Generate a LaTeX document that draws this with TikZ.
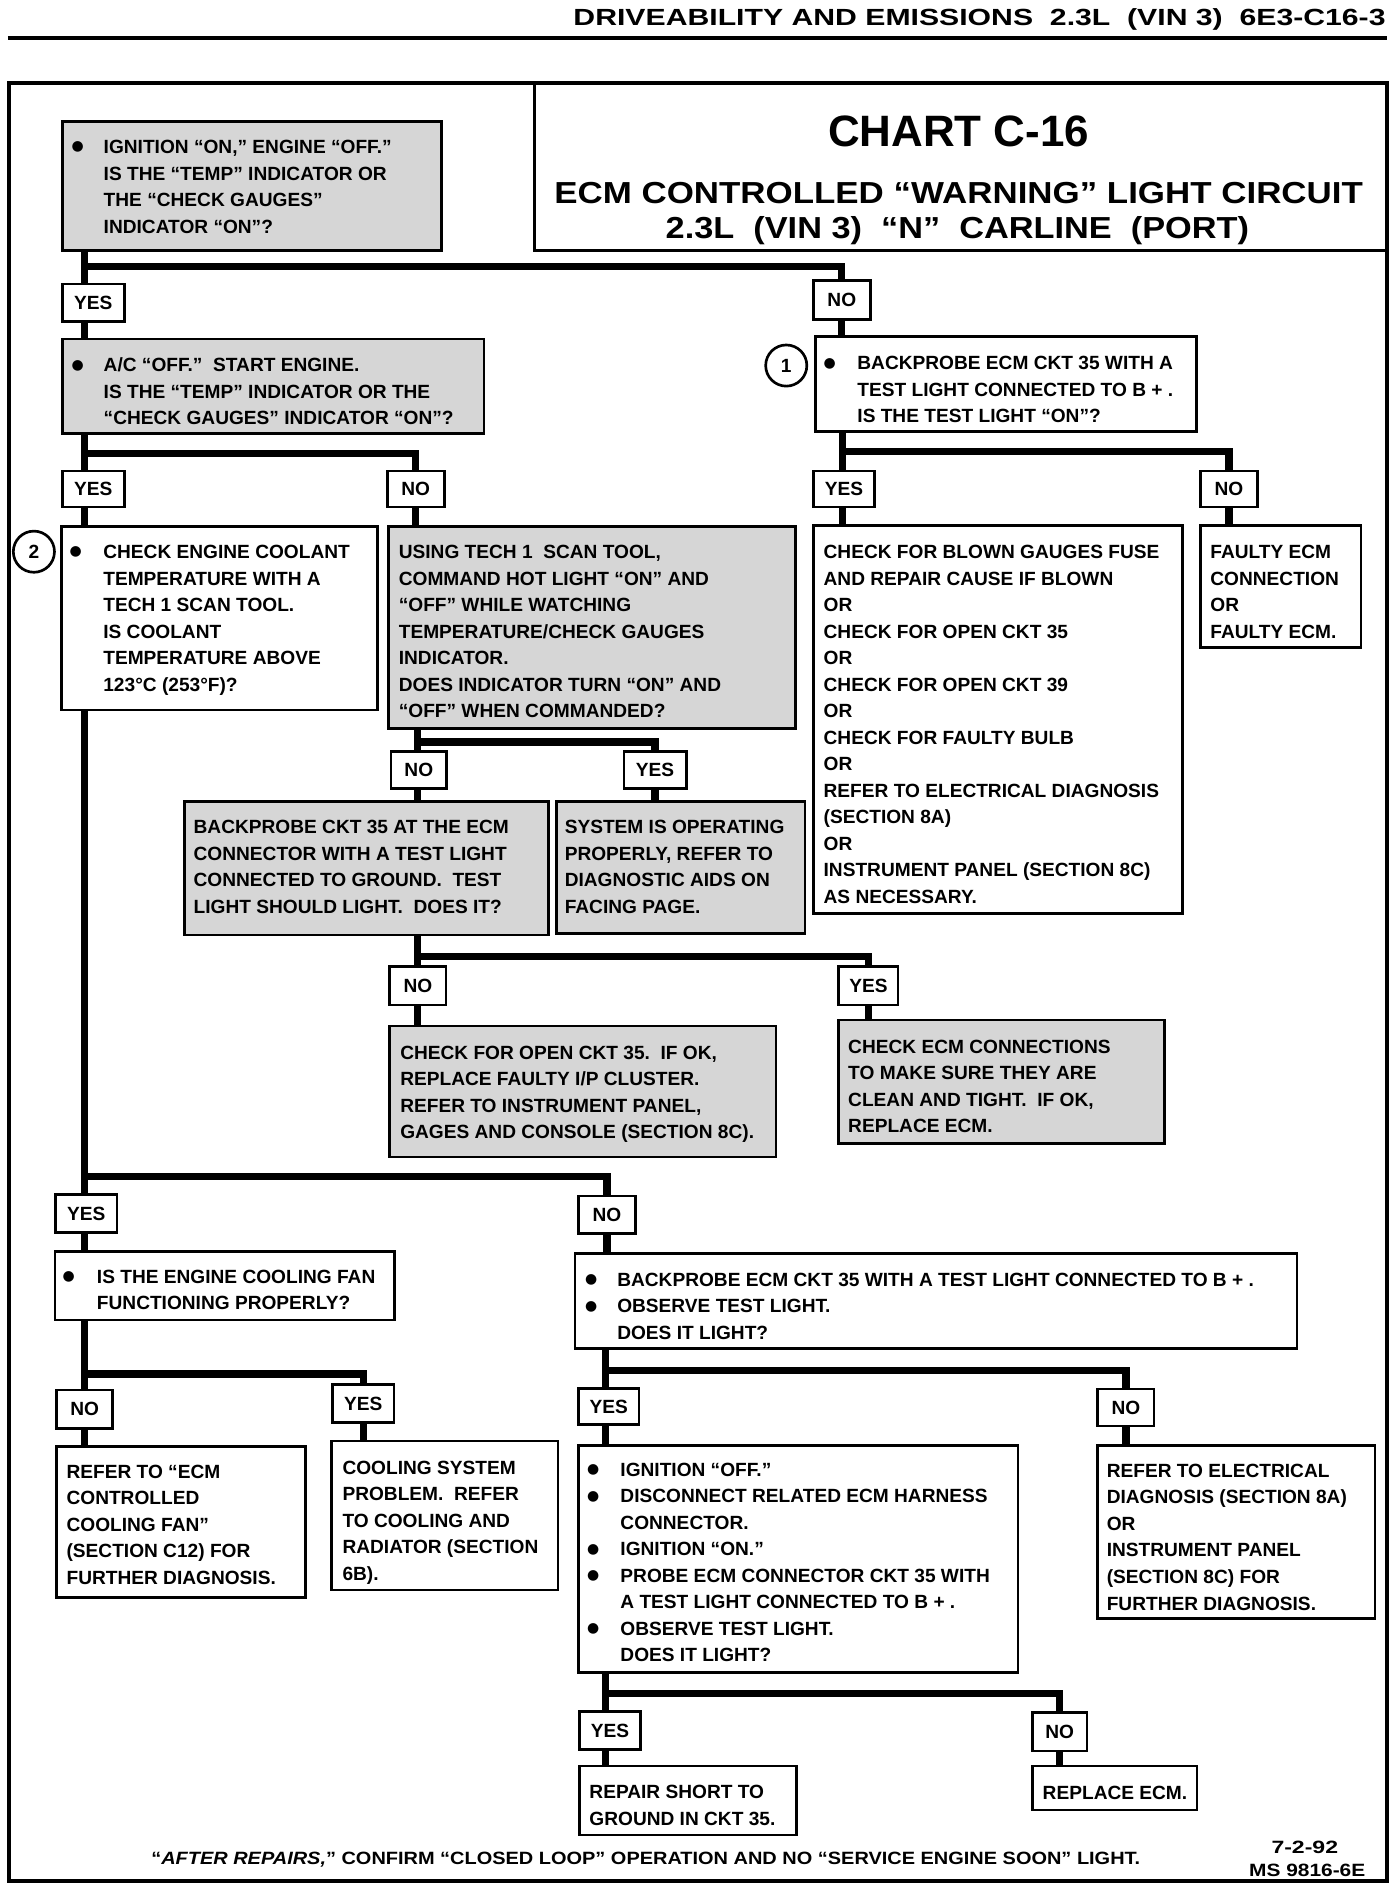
\documentclass[tikz,border=0pt]{standalone}
\usepackage{fontspec}
\setmainfont{Liberation Sans}
\newfontfamily\bulf{DejaVu Sans}
\usepackage{graphicx}
\newlength\bulw
\newcommand\bulit{\makebox[\bulw][l]{\hspace*{-1pt}\raisebox{2.2pt}{\bulf\fontsize{11.5}{11.5}\selectfont ●}}}
\newcommand\bind{\hspace*{\bulw}}
\def\caph{5.66}
\newcommand\TBox[9]{%
  \pgfmathsetmacro\tbCW{#5-#3-2*#7}%
  \pgfmathsetmacro\tbTH{#8+\caph-#4}%
  \pgfmathsetmacro\tbTD{#6-#8-\caph}%
  \node[#1, anchor=north west, inner xsep=#7pt, inner ysep=0pt, text height=\tbTH pt, text depth=\tbTD pt] (#2) at (#3,#4) {\makebox[\tbCW pt][l]{\begin{tabular}[t]{@{}l@{}}#9\end{tabular}}};}
\newcommand\LBox[6]{%
  \pgfmathsetmacro\lbW{#4-#2}\pgfmathsetmacro\lbH{#5-#3}%
  \node[lab, anchor=north west, minimum width=\lbW pt, minimum height=\lbH pt] (#1) at (#2,#3) {#6};}
\tikzset{
  bx/.style={draw, line width=2.2pt, outer sep=0pt, font=\fontsize{15.8}{21.9}\selectfont\bfseries\frenchspacing},
  wbox/.style={bx, fill=white},
  gbox/.style={bx, fill=black!16},
  lab/.style={draw, line width=2.2pt, fill=white, inner sep=0pt, outer sep=0pt, font=\fontsize{15.8}{20}\selectfont\bfseries},
  conn/.style={line width=6pt, line join=miter},
  bulletw/.style={execute at begin node={\setlength{\bulw}{#1}}},
  num/.style={circle, draw, line width=2.2pt, minimum size=34pt, inner sep=0pt, fill=white, font=\fontsize{15.8}{20}\selectfont\bfseries}
}
\begin{document}
\begin{tikzpicture}[x=1pt,y=-1pt]
\useasboundingbox (0,0) rectangle (1150,1561.5);
% header
\node[anchor=base east, inner sep=0pt, font=\fontsize{19.3}{22}\selectfont\bfseries] (hdr) at (1145,20.7)
  {\resizebox{671pt}{\height}{DRIVEABILITY AND EMISSIONS\ \ 2.3L\ \ (VIN 3)\ \ 6E3-C16-3}};
\draw[line width=3.3pt] (6.5,31) -- (1146,31);
% frame and title box
\draw[line width=3.5pt] (7.5,68.8) rectangle (1146,1554);
\draw[line width=2.5pt] (441.5,68.8) -- (441.5,207) -- (1146,207);
\node[anchor=base, inner sep=0pt, font=\fontsize{36.3}{40}\selectfont\bfseries] (T1) at (792,121) {CHART C-16};
\node[anchor=base, inner sep=0pt, font=\fontsize{25.1}{28}\selectfont\bfseries] (T2) at (792,168)
  {\resizebox{668pt}{\height}{ECM CONTROLLED “WARNING” LIGHT CIRCUIT}};
\node[anchor=base, inner sep=0pt, font=\fontsize{25.1}{28}\selectfont\bfseries] (T3) at (791,197)
  {\resizebox{482pt}{\height}{2.3L\ \ (VIN 3)\ \ “N”\ \ CARLINE\ \ (PORT)}};

% boxes
\TBox{gbox,bulletw=25.5pt}{A}{51.6}{100.5}{365}{207}{8.6}{121.2}{%
\bulit IGNITION “ON,” ENGINE “OFF.”\\
\bind IS THE “TEMP” INDICATOR OR\\
\bind THE “CHECK GAUGES”\\
\bind INDICATOR “ON”?}
\TBox{gbox,bulletw=25.5pt}{B}{51.6}{280}{400}{358}{8.6}{301.6}{%
\bulit A/C “OFF.”\ \ START ENGINE.\\
\bind IS THE “TEMP” INDICATOR OR THE\\
\bind “CHECK GAUGES” INDICATOR “ON”?}
\TBox{wbox,bulletw=26.9pt}{P1}{674}{278}{988.5}{356.6}{7.5}{300}{%
\bulit BACKPROBE ECM CKT 35 WITH A\\
\bind TEST LIGHT CONNECTED TO B + .\\
\bind IS THE TEST LIGHT “ON”?}
\TBox{wbox,bulletw=26.9pt}{P2}{51}{435}{312}{586.6}{7.5}{455.8}{%
\bulit CHECK ENGINE COOLANT\\
\bind TEMPERATURE WITH A\\
\bind TECH 1 SCAN TOOL.\\
\bind IS COOLANT\\
\bind TEMPERATURE ABOVE\\
\bind 123°C (253°F)?}
\TBox{gbox}{N3}{321}{435}{657}{601.6}{8.5}{455.8}{%
USING TECH 1\ \ SCAN TOOL,\\
COMMAND HOT LIGHT “ON” AND\\
“OFF” WHILE WATCHING\\
TEMPERATURE/CHECK GAUGES\\
INDICATOR.\\
DOES INDICATOR TURN “ON” AND\\
“OFF” WHEN COMMANDED?}
\TBox{gbox}{BP1}{152.5}{662.3}{453}{772.5}{7.5}{683}{%
BACKPROBE CKT 35 AT THE ECM\\
CONNECTOR WITH A TEST LIGHT\\
CONNECTED TO GROUND.\ \ TEST\\
LIGHT SHOULD LIGHT.\ \ DOES IT?}
\TBox{gbox}{SYS}{460}{662.3}{665}{771}{6.6}{683}{%
SYSTEM IS OPERATING\\
PROPERLY, REFER TO\\
DIAGNOSTIC AIDS ON\\
FACING PAGE.}
\TBox{wbox}{BLOWN}{672}{434.3}{977}{754.6}{8.5}{455.8}{%
CHECK FOR BLOWN GAUGES FUSE\\
AND REPAIR CAUSE IF BLOWN\\
OR\\
CHECK FOR OPEN CKT 35\\
OR\\
CHECK FOR OPEN CKT 39\\
OR\\
CHECK FOR FAULTY BULB\\
OR\\
REFER TO ELECTRICAL DIAGNOSIS\\
(SECTION 8A)\\
OR\\
INSTRUMENT PANEL (SECTION 8C)\\
AS NECESSARY.}
\TBox{wbox}{FAULTY}{991.6}{434.3}{1124.5}{535}{8.4}{455.8}{%
FAULTY ECM\\
CONNECTION\\
OR\\
FAULTY ECM.}
\TBox{gbox}{OPEN}{322}{847.7}{641}{956}{8.7}{869.5}{%
CHECK FOR OPEN CKT 35.\ \ IF OK,\\
REPLACE FAULTY I/P CLUSTER.\\
REFER TO INSTRUMENT PANEL,\\
GAGES AND CONSOLE (SECTION 8C).}
\TBox{gbox}{CECM}{693}{842.7}{962}{945}{7.8}{864.7}{%
CHECK ECM CONNECTIONS\\
TO MAKE SURE THEY ARE\\
CLEAN AND TIGHT.\ \ IF OK,\\
REPLACE ECM.}
\TBox{wbox,bulletw=27.3pt}{FAN}{45.4}{1034}{326}{1090.6}{7.4}{1054.7}{%
\bulit IS THE ENGINE COOLING FAN\\
\bind FUNCTIONING PROPERLY?}
\TBox{wbox,bulletw=25.5pt}{BP2}{475}{1035.5}{1071.6}{1114}{9.5}{1057}{%
\bulit BACKPROBE ECM CKT 35 WITH A TEST LIGHT CONNECTED TO B + .\\
\bulit OBSERVE TEST LIGHT.\\
\bind DOES IT LIGHT?}
\TBox{wbox}{RECM}{46.8}{1195}{252.6}{1320}{8.2}{1215.8}{%
REFER TO “ECM\\
CONTROLLED\\
COOLING FAN”\\
(SECTION C12) FOR\\
FURTHER DIAGNOSIS.}
\TBox{wbox}{COOL}{274}{1190.5}{461}{1313.6}{9}{1212.5}{%
COOLING SYSTEM\\
PROBLEM.\ \ REFER\\
TO COOLING AND\\
RADIATOR (SECTION\\
6B).}
\TBox{wbox,bulletw=26.5pt}{IGN}{478}{1194}{841}{1382}{8.1}{1214}{%
\bulit IGNITION “OFF.”\\
\bulit DISCONNECT RELATED ECM HARNESS\\
\bind CONNECTOR.\\
\bulit IGNITION “ON.”\\
\bulit PROBE ECM CONNECTOR CKT 35 WITH\\
\bind A TEST LIGHT CONNECTED TO B + .\\
\bulit OBSERVE TEST LIGHT.\\
\bind DOES IT LIGHT?}
\TBox{wbox}{REL}{907}{1194}{1136}{1337}{7.4}{1215}{%
REFER TO ELECTRICAL\\
DIAGNOSIS (SECTION 8A)\\
OR\\
INSTRUMENT PANEL\\
(SECTION 8C) FOR\\
FURTHER DIAGNOSIS.}
\TBox{wbox}{REP}{479}{1459}{658.3}{1516}{8}{1480.5}{%
REPAIR SHORT TO\\
GROUND IN CKT 35.}
\TBox{wbox}{RPL}{853}{1459}{989}{1495.4}{8.5}{1481}{%
REPLACE ECM.}

% circled numbers
\node[num] (C1) at (649.6,302) {1};
\node[num] (C2) at (28,455.8) {2};

% labels
\LBox{yA}{51.6}{234.7}{102.6}{265.8}{YES}
\LBox{nA}{672}{232}{719}{263.8}{NO}
\LBox{yB}{51.6}{389}{102.6}{419}{YES}
\LBox{nB}{320}{389}{367}{419}{NO}
\LBox{yC}{672}{389}{722.6}{419}{YES}
\LBox{nC}{991.6}{389}{1039}{419}{NO}
\LBox{nD}{323}{621}{369}{651.3}{NO}
\LBox{yD}{515.5}{621}{567}{651.3}{YES}
\LBox{nE}{322}{798.6}{368.5}{830.3}{NO}
\LBox{yE}{693}{798.6}{742}{830.3}{YES}
\LBox{yF}{46}{987}{96.6}{1018}{YES}
\LBox{nF}{478}{988}{525}{1019}{NO}
\LBox{nG}{46.8}{1148.4}{93}{1180}{NO}
\LBox{yG}{274.8}{1144}{325.6}{1175.4}{YES}
\LBox{yH}{478}{1147}{528}{1177}{YES}
\LBox{nH}{907}{1147.6}{953.5}{1178}{NO}
\LBox{yI}{479}{1414}{529}{1445.3}{YES}
\LBox{nI}{853}{1415}{898}{1446.6}{NO}

% junction points
\coordinate (jA) at (70,220.3);
\coordinate (jB) at (70,374.5);
\coordinate (jC) at (696,373.2);
\coordinate (jD) at (345,613);
\coordinate (jE) at (345,790.4);
\coordinate (jF) at (70,972);
\coordinate (jG) at (70,1135.2);
\coordinate (jH) at (500,1132);
\coordinate (jI) at (500,1399);

% connectors
\draw[conn] (A.south -| jA) -- (yA.north -| jA);
\draw[conn] (jA) -| (nA.north);
\draw[conn] (yA.south -| jA) -- (B.north -| jA);
\draw[conn] (nA.south) -- (nA.south |- P1.north);

\draw[conn] (B.south -| jB) -- (yB.north -| jB);
\draw[conn] (jB) -| (nB.north);
\draw[conn] (yB.south -| jB) -- (P2.north -| jB);
\draw[conn] (nB.south) -- (nB.south |- N3.north);

\draw[conn] (P1.south -| jC) -- (yC.north -| jC);
\draw[conn] (jC) -| (nC.north);
\draw[conn] (yC.south -| jC) -- (BLOWN.north -| jC);
\draw[conn] (nC.south) -- (nC.south |- FAULTY.north);

\draw[conn] (N3.south -| jD) -- (nD.north -| jD);
\draw[conn] (jD) -| (yD.north);
\draw[conn] (nD.south -| jD) -- (BP1.north -| jD);
\draw[conn] (yD.south) -- (yD.south |- SYS.north);

\draw[conn] (BP1.south -| jE) -- (nE.north -| jE);
\draw[conn] (jE) -| (yE.north);
\draw[conn] (nE.south -| jE) -- (OPEN.north -| jE);
\draw[conn] (yE.south) -- (yE.south |- CECM.north);

\draw[conn] (P2.south -| jF) -- (yF.north -| jF);
\draw[conn] (jF) -| (nF.north);
\draw[conn] (yF.south -| jF) -- (FAN.north -| jF);
\draw[conn] (nF.south) -- (nF.south |- BP2.north);

\draw[conn] (FAN.south -| jG) -- (nG.north -| jG);
\draw[conn] (jG) -| (yG.north);
\draw[conn] (nG.south -| jG) -- (RECM.north -| jG);
\draw[conn] (yG.south) -- (yG.south |- COOL.north);

\draw[conn] (BP2.south -| jH) -- (yH.north -| jH);
\draw[conn] (jH) -| (nH.north);
\draw[conn] (yH.south -| jH) -- (IGN.north -| jH);
\draw[conn] (nH.south) -- (nH.south |- REL.north);

\draw[conn] (IGN.south -| jI) -- (yI.north -| jI);
\draw[conn] (jI) -| (nI.north);
\draw[conn] (yI.south -| jI) -- (REP.north -| jI);
\draw[conn] (nI.south) -- (nI.south |- RPL.north);

% footer
\node[anchor=base, inner sep=0pt, font=\fontsize{14.7}{18}\selectfont\bfseries] (foot) at (533.5,1540.6)
  {\resizebox{817pt}{\height}{“\textit{AFTER REPAIRS,}” CONFIRM “CLOSED LOOP” OPERATION AND NO “SERVICE ENGINE SOON” LIGHT.}};
\node[anchor=base, inner sep=0pt, font=\fontsize{14.7}{18}\selectfont\bfseries] (date) at (1078,1531)
  {\resizebox{55pt}{\height}{7-2-92}};
\node[anchor=base, inner sep=0pt, font=\fontsize{14.7}{18}\selectfont\bfseries] (ms) at (1080,1550.3)
  {\resizebox{96pt}{\height}{MS 9816-6E}};
\end{tikzpicture}
\end{document}
